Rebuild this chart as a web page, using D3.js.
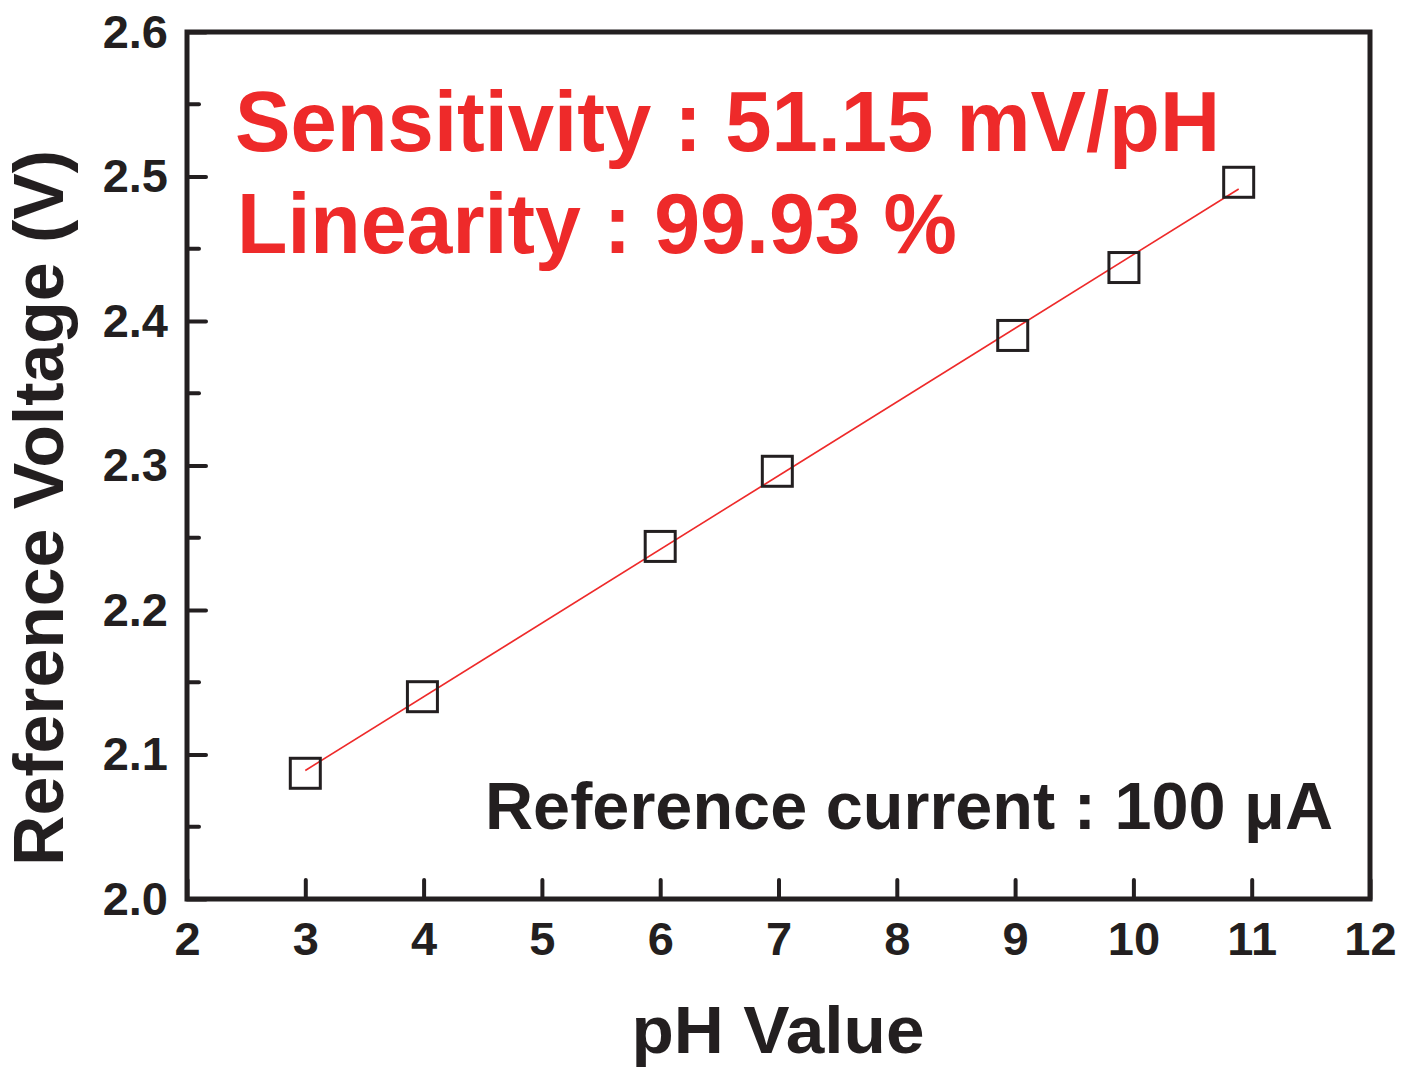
<!DOCTYPE html>
<html>
<head>
<meta charset="utf-8">
<script src="https://cdn.jsdelivr.net/npm/d3@7"></script>
<style>
  body { margin: 0; background: #fff; }
  text { font-family: "Liberation Sans", Arial, sans-serif; font-weight: bold; }
</style>
</head>
<body>
<div id="chart"></div>
<script>
// measured pH / reference voltage pairs
var phValues = [3.0, 3.99, 6.0, 6.99, 8.98, 9.92, 10.89];
var voltages = [2.087, 2.140, 2.244, 2.296, 2.390, 2.437, 2.496];
var xTicks = [2, 3, 4, 5, 6, 7, 8, 9, 10, 11, 12];
var yTicks = [2.0, 2.1, 2.2, 2.3, 2.4, 2.5, 2.6];
var yMinor = [2.05, 2.15, 2.25, 2.35, 2.45, 2.55];

function init(){
    var w = 1409;
    var h = 1070;
    var ink = "#231f20";
    var red = "#ee2a2a";

    var x = d3.scaleLinear().domain([2, 12]).range([187, 1370]);
    var y = d3.scaleLinear().domain([2.0, 2.6]).range([899, 32]);

    var svg = d3.select("#chart")
                .append("svg")
                .attr("width", w)
                .attr("height", h);

    // least squares fit line
    var n = phValues.length;
    var mx = d3.mean(phValues), my = d3.mean(voltages);
    var sxy = 0, sxx = 0;
    for (var i = 0; i < n; i++) {
        sxy += (phValues[i] - mx) * (voltages[i] - my);
        sxx += (phValues[i] - mx) * (phValues[i] - mx);
    }
    var slope = sxy / sxx;
    var icpt = my - slope * mx;
    var x0 = d3.min(phValues), x1 = d3.max(phValues);

    svg.append("line")
        .attr("x1", x(x0)).attr("y1", y(icpt + slope * x0))
        .attr("x2", x(x1)).attr("y2", y(icpt + slope * x1))
        .attr("stroke", red)
        .attr("stroke-width", 1.6);

    // data markers (open squares)
    var s = 30;
    svg.selectAll("rect.pt")
        .data(phValues)
        .enter()
        .append("rect")
        .attr("class", "pt")
        .attr("x", function(d){ return x(d) - s/2; })
        .attr("y", function(d, i){ return y(voltages[i]) - s/2; })
        .attr("width", s)
        .attr("height", s)
        .attr("fill", "none")
        .attr("stroke", ink)
        .attr("stroke-width", 3);

    // axes with inward ticks
    var xAxis = d3.axisBottom(x).tickValues(xTicks).tickSize(-19).tickPadding(23)
                  .tickFormat(d3.format("d"));
    var yAxis = d3.axisLeft(y).tickValues(yTicks).tickSize(-19).tickPadding(19)
                  .tickFormat(d3.format(".1f"));

    var gx = svg.append("g").attr("transform", "translate(0," + y(2.0) + ")").call(xAxis);
    var gy = svg.append("g").attr("transform", "translate(" + x(2) + ",0)").call(yAxis);

    [gx, gy].forEach(function(g){
        g.select(".domain").remove();
        g.selectAll(".tick line")
            .attr("stroke", ink)
            .attr("stroke-width", 4)
            .attr("stroke-linecap", "round");
        g.selectAll(".tick text")
            .attr("fill", ink)
            .style("font-size", "47px");
    });
    gx.selectAll(".tick text").attr("dy", "0.71em");

    // minor y ticks
    svg.selectAll("line.minor")
        .data(yMinor)
        .enter()
        .append("line")
        .attr("class", "minor")
        .attr("x1", x(2)).attr("x2", x(2) + 12)
        .attr("y1", function(d){ return y(d); })
        .attr("y2", function(d){ return y(d); })
        .attr("stroke", ink)
        .attr("stroke-width", 4)
        .attr("stroke-linecap", "round");

    // frame
    svg.append("rect")
        .attr("x", x(2)).attr("y", y(2.6))
        .attr("width", x(12) - x(2))
        .attr("height", y(2.0) - y(2.6))
        .attr("fill", "none")
        .attr("stroke", ink)
        .attr("stroke-width", 5);

    // annotations
    svg.append("text")
        .attr("x", 235).attr("y", 151)
        .attr("fill", red)
        .attr("textLength", 985).attr("lengthAdjust", "spacingAndGlyphs")
        .style("font-size", "86px")
        .text("Sensitivity : 51.15 mV/pH");

    svg.append("text")
        .attr("x", 237).attr("y", 253)
        .attr("fill", red)
        .attr("textLength", 720).attr("lengthAdjust", "spacingAndGlyphs")
        .style("font-size", "86px")
        .text("Linearity : 99.93 %");

    svg.append("text")
        .attr("x", 485).attr("y", 829)
        .attr("fill", ink)
        .attr("textLength", 848).attr("lengthAdjust", "spacingAndGlyphs")
        .style("font-size", "67px")
        .text("Reference current : 100 \u03bcA");

    // axis titles
    svg.append("text")
        .attr("x", 778).attr("y", 1053)
        .attr("text-anchor", "middle")
        .attr("fill", ink)
        .attr("textLength", 293).attr("lengthAdjust", "spacingAndGlyphs")
        .style("font-size", "66px")
        .text("pH Value");

    svg.append("text")
        .attr("transform", "translate(63,508) rotate(-90)")
        .attr("text-anchor", "middle")
        .attr("fill", ink)
        .attr("textLength", 716).attr("lengthAdjust", "spacingAndGlyphs")
        .style("font-size", "70px")
        .text("Reference Voltage (V)");
}
window.onload = init;
</script>
</body>
</html>
